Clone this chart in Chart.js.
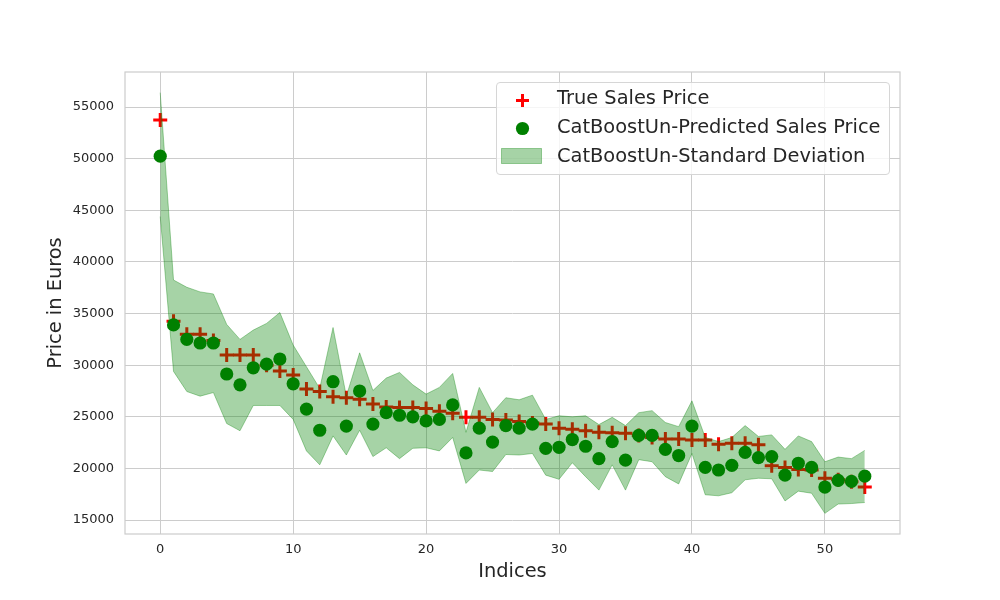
<!DOCTYPE html>
<html>
<head>
<meta charset="utf-8">
<title>CatBoostUn sales price predictions</title>
<script src="https://cdn.jsdelivr.net/npm/chart.js@4.4.0/dist/chart.umd.min.js"></script>
<style>
	body { margin: 0; background: #fff; }
	#wrap { position: relative; width: 1000px; height: 600px; }
	#legend {
		position: absolute; left: 496px; top: 82px; width: 394px; height: 93px;
		box-sizing: border-box; border: 1px solid #d6d6d6; border-radius: 4px;
		background: rgba(255, 255, 255, 0.8);
	}
	.lab {
		position: absolute; left: 557px; font-family: "DejaVu Sans"; font-size: 19.4px;
		line-height: 1; color: #262626; white-space: nowrap;
	}
	.mk { position: absolute; }
</style>
</head>
<body>
<div id="wrap">
	<canvas id="miGrafico" width="1000" height="600"></canvas>
	<div id="legend"></div>
	<svg class="mk" style="left:516px;top:94px" width="13" height="13"><rect x="0" y="5" width="13" height="3" fill="#ff0000"/><rect x="5" y="0" width="3" height="13" fill="#ff0000"/></svg>
	<svg class="mk" style="left:515px;top:121px" width="15" height="15"><circle cx="7.5" cy="7.5" r="6.6" fill="#008000"/></svg>
	<svg class="mk" style="left:501px;top:148px" width="41" height="16"><rect x="0.5" y="0.5" width="40" height="15" fill="rgba(0,128,0,0.35)" stroke="rgba(0,128,0,0.35)" stroke-width="1"/></svg>
	<span class="lab" style="top:88px">True Sales Price</span>
	<span class="lab" style="top:117px">CatBoostUn-Predicted Sales Price</span>
	<span class="lab" style="top:146px">CatBoostUn-Standard Deviation</span>
</div>
<script>
const indices = [0, 1, 2, 3, 4, 5, 6, 7, 8, 9, 10, 11, 12, 13, 14, 15, 16, 17, 18, 19, 20, 21, 22, 23, 24, 25, 26,
	27, 28, 29, 30, 31, 32, 33, 34, 35, 36, 37, 38, 39, 40, 41, 42, 43, 44, 45, 46, 47, 48, 49, 50, 51, 52, 53];

const truePrice = [53750, 34250, 33000, 33000, 32400, 31000, 31000, 31000, 30000, 29450, 29050, 27700, 27450, 26950,
	26850, 26700, 26250, 25950, 25900, 25900, 25800, 25550, 25350, 24950, 24950, 24750, 24700, 24550, 24400, 24300,
	23900, 23800, 23650, 23500, 23450, 23400, 23200, 23000, 22850, 22850, 22750, 22750, 22350, 22450, 22450, 22300,
	20250, 20100, 19900, 19850, 19050, 18900, 18700, 18200];

const predictedPrice = [50250, 33900, 32500, 32150, 32150, 29150, 28100, 29750, 30100, 30600, 28200, 25750, 23700, 28400,
	24100, 27500, 24300, 25400, 25150, 25000, 24600, 24750, 26150, 21500, 23900, 22550, 24150, 23900, 24300, 21950,
	22050, 22800, 22150, 20950, 22600, 20800, 23200, 23200, 21850, 21250, 24100, 20100, 19850, 20300, 21550, 21050,
	21150, 19350, 20500, 20100, 18200, 18850, 18750, 19250];

// mean +/- std
const stdUpper = [56400, 38250, 37550, 37100, 36900, 33950, 32500, 33400, 34050, 35100, 31950, 29850, 27750, 33650,
	27000, 31200, 27550, 28750, 29300, 28100, 27200, 27850, 29200, 23500, 27850, 25400, 26850, 26650, 27100, 24750,
	25100, 25000, 25100, 24250, 24950, 24150, 25400, 25600, 24450, 24050, 26550, 23000, 22600, 23000, 24150, 23100,
	23250, 21850, 23150, 22600, 20650, 21100, 20950, 21750];

const stdLower = [44400, 29400, 27450, 27000, 27350, 24350, 23650, 26100, 26100, 26100, 24750, 21700, 20350, 23150,
	21300, 23700, 21150, 22000, 20950, 21950, 22000, 21700, 23000, 18550, 19850, 19700, 21350, 21300, 21450, 19350,
	18950, 20550, 19200, 17900, 20350, 17900, 20850, 20650, 19200, 18500, 21450, 17450, 17350, 17650, 18900, 19050,
	19000, 16850, 17800, 17600, 15650, 16550, 16600, 16700];

const xTicks = [0, 10, 20, 30, 40, 50];
const yTicks = [15000, 20000, 25000, 30000, 35000, 40000, 45000, 50000, 55000];

function pts(values) {
	return indices.map((x, i) => ({ x: x, y: values[i] }));
}

// marco gris alrededor del area del grafico
const frame = {
	id: "frame",
	beforeDatasetsDraw(chart) {
		const a = chart.chartArea;
		const ctx = chart.ctx;
		ctx.save();
		ctx.strokeStyle = "#cccccc";
		ctx.lineWidth = 1.2;
		ctx.strokeRect(a.left, a.top, a.right - a.left, a.bottom - a.top);
		ctx.restore();
	},
};

function initGrafico() {
	const ctx = document.getElementById("miGrafico");
	Chart.defaults.font.family = "DejaVu Sans";
	Chart.defaults.color = "#262626";

	new Chart(ctx, {
		type: "scatter",
		data: {
			datasets: [
				{
					label: "True Sales Price",
					data: pts(truePrice),
					pointStyle: "cross",
					pointRadius: 7,
					pointBorderWidth: 3,
					pointBorderColor: "#ff0000",
					order: 2,
				},
				{
					label: "CatBoostUn-Predicted Sales Price",
					data: pts(predictedPrice),
					pointStyle: "circle",
					pointRadius: 6.6,
					pointBorderWidth: 0,
					pointBackgroundColor: "#008000",
					order: 1,
				},
				{
					type: "line",
					label: "upper",
					data: pts(stdUpper),
					borderColor: "rgba(0,128,0,0.35)",
					borderWidth: 1,
					pointRadius: 0,
					tension: 0,
					fill: false,
					order: 0,
				},
				{
					type: "line",
					label: "CatBoostUn-Standard Deviation",
					data: pts(stdLower),
					borderColor: "rgba(0,128,0,0.35)",
					backgroundColor: "rgba(0,128,0,0.35)",
					borderWidth: 1,
					pointRadius: 0,
					tension: 0,
					fill: "-1",
					order: 0,
				},
			],
		},
		plugins: [frame],
		options: {
			responsive: false,
			animation: false,
			layout: { padding: { top: 72, right: 100, bottom: 0, left: 0 } },
			plugins: {
				legend: { display: false },
				tooltip: { enabled: false },
			},
			scales: {
				x: {
					type: "linear",
					min: -2.65,
					max: 55.65,
					afterBuildTicks: (s) => { s.ticks = xTicks.map((v) => ({ value: v })); },
					afterFit: (s) => { s.height = 66; },
					grid: { color: "#cccccc", lineWidth: 1, drawTicks: false },
					border: { display: false },
					ticks: { padding: 8, font: { size: 13 }, color: "#262626" },
					title: {
						display: true,
						text: "Indices",
						font: { size: 19.4 },
						color: "#262626",
						padding: { top: 0, bottom: 16.5 },
					},
				},
				y: {
					min: 13650,
					max: 58400,
					afterBuildTicks: (s) => { s.ticks = yTicks.map((v) => ({ value: v })); },
					afterFit: (s) => { s.width = 125; },
					grid: { color: "#cccccc", lineWidth: 1, drawTicks: false },
					border: { display: false },
					ticks: { padding: 11, font: { size: 13 }, color: "#262626", callback: (v) => String(v) },
					title: {
						display: true,
						text: "Price in Euros",
						font: { size: 19.4 },
						color: "#262626",
						padding: { top: 44, bottom: 0 },
					},
				},
			},
		},
	});
}

initGrafico();
</script>
</body>
</html>
